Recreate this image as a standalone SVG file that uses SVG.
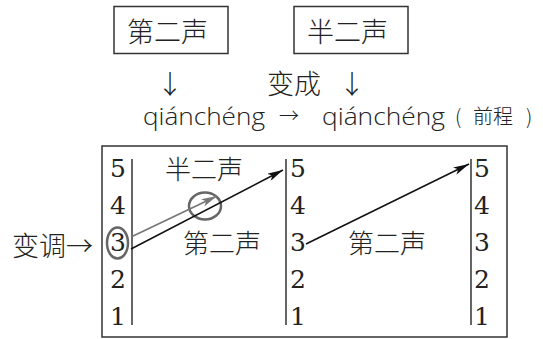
<svg xmlns="http://www.w3.org/2000/svg" width="543" height="339" viewBox="0 0 543 339">
<style>
.cjk{font-family:"Noto Sans CJK SC","Noto Sans CJK JP",sans-serif;fill:#222;font-weight:300}
.num{font-family:"DejaVu Serif","Liberation Serif","Noto Serif",serif;font-size:25px;fill:#222}
.py{font-family:"Open Sans","Noto Sans","Liberation Sans",sans-serif;font-size:23px;font-weight:300;fill:#222}
.box{fill:none;stroke:#333;stroke-width:1.5}
.axis{stroke:#666;stroke-width:2}
</style>
<defs>
<marker id="ab" viewBox="0 0 16 8" refX="16" refY="4" markerWidth="16" markerHeight="8" markerUnits="userSpaceOnUse" orient="auto"><path d="M0,0 L16,4 L0,8 L4,4 Z" fill="#111"/></marker>
<marker id="ag" viewBox="0 0 16 8" refX="16" refY="4" markerWidth="16" markerHeight="8" markerUnits="userSpaceOnUse" orient="auto"><path d="M0,0 L16,4 L0,8 L4,4 Z" fill="#777"/></marker>
</defs>
<rect width="543" height="339" fill="#fff"/>
<g id="box-dierSheng">
<rect class="box" x="114" y="6.5" width="114" height="47"/>
<text class="cjk" x="127" y="42" font-size="27">第二声</text>
</g>
<g id="box-banerSheng">
<rect class="box" x="294" y="6.5" width="114" height="47"/>
<text class="cjk" x="307" y="42" font-size="27">半二声</text>
</g>
<g id="label-biancheng">
<text class="cjk" x="170" y="94" font-size="26" text-anchor="middle">↓</text>
<text class="cjk" x="267" y="94" font-size="27">变成</text>
<text class="cjk" x="352" y="94" font-size="26" text-anchor="middle">↓</text>
</g>
<g id="pinyin">
<text class="py" x="143" y="125" textLength="122" lengthAdjust="spacingAndGlyphs">qiánchéng</text>
<text class="cjk" x="289" y="123" font-size="20" text-anchor="middle">→</text>
<text class="py" x="322" y="125" textLength="123" lengthAdjust="spacingAndGlyphs">qiánchéng</text>
<text class="cjk" font-size="20"><tspan x="455" y="124">(</tspan><tspan x="473" y="124">前程</tspan><tspan x="526" y="124">)</tspan></text>
</g>
<g id="chart">
<rect class="box" x="102" y="146" width="405" height="191"/>
<line class="axis" x1="132" y1="159" x2="132" y2="325"/>
<line class="axis" x1="286" y1="159" x2="286" y2="325"/>
<line class="axis" x1="471" y1="159" x2="471" y2="325"/>
<g class="num" text-anchor="middle">
<text x="118" y="177">5</text><text x="118" y="214">4</text><text x="118" y="251">3</text><text x="118" y="288">2</text><text x="118" y="325">1</text>
</g>
<g class="num">
<text x="290" y="177">5</text><text x="290" y="214">4</text><text x="290" y="251">3</text><text x="290" y="288">2</text><text x="290" y="325">1</text>
<text x="474" y="177">5</text><text x="474" y="214">4</text><text x="474" y="251">3</text><text x="474" y="288">2</text><text x="474" y="325">1</text>
</g>
<text class="cjk" x="165" y="179" font-size="26">半二声</text>
<text class="cjk" x="183" y="253" font-size="26">第二声</text>
<text class="cjk" x="348" y="253" font-size="26">第二声</text>
<ellipse cx="117.5" cy="243" rx="10.5" ry="15.5" fill="none" stroke="#666" stroke-width="2.5"/>
<ellipse cx="205" cy="206" rx="16" ry="13.5" fill="none" stroke="#666" stroke-width="2.5"/>
</g>
<g id="label-biandiao">
<text class="cjk" x="12" y="256" font-size="27">变调→</text>
</g>
<g id="connectors">
<line x1="131" y1="237" x2="217" y2="196" stroke="#777" stroke-width="1.8" marker-end="url(#ag)"/>
<line x1="131" y1="249" x2="283" y2="170" stroke="#111" stroke-width="1.5" marker-end="url(#ab)"/>
<line x1="306" y1="244" x2="469" y2="164" stroke="#111" stroke-width="1.5" marker-end="url(#ab)"/>
</g>
</svg>
